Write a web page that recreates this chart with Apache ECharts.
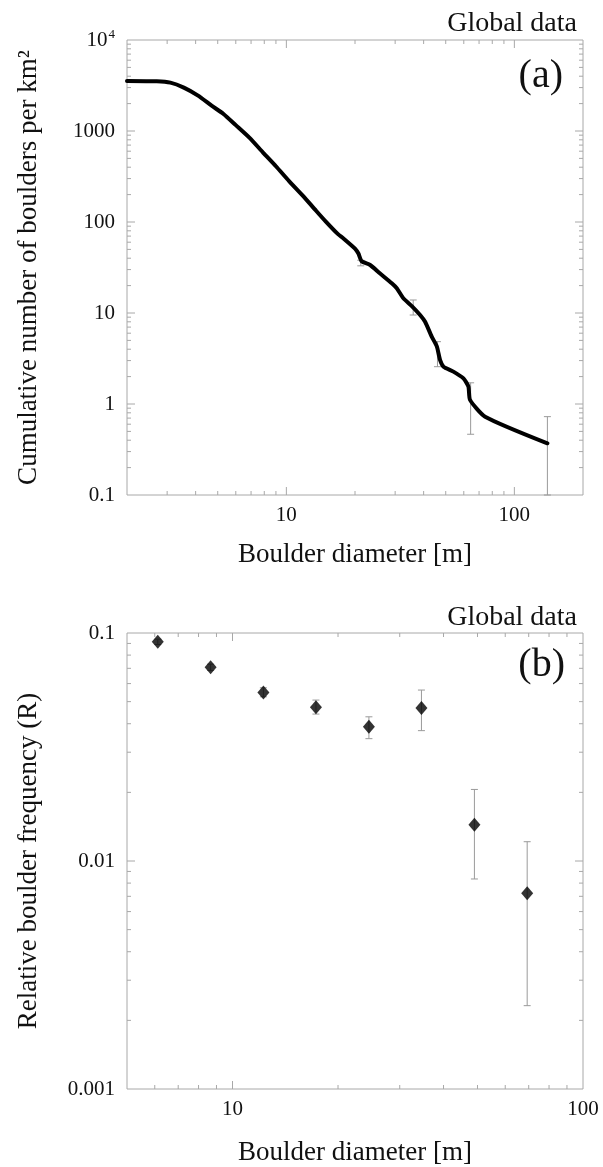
<!DOCTYPE html>
<html>
<head>
<meta charset="utf-8">
<style>
  html, body { margin: 0; padding: 0; background: #fff; }
  #chart { width: 603px; height: 1167px; }
</style>
<script src="https://cdn.jsdelivr.net/npm/echarts@6/dist/echarts.min.js"></script>
</head>
<body>
<div id="chart"></div>
<script>
// (a) cumulative size-frequency curve: [diameter m, boulders per km2]
const cumDiameter = [2.0, 2.7, 3.1, 3.55, 4.1, 4.7, 5.3, 6.0, 6.9, 7.9, 9.0, 10.3, 11.8, 13.5, 14.9, 16.8,
  17.8, 20.0, 20.7, 21.4, 23.3, 25.7, 29.0, 30.5, 32.6, 35.5, 38.6, 40.6, 43.4, 45.7, 47.2, 48.9,
  54.0, 59.8, 62.9, 63.9, 74.4, 139.6]
const cumNumber = [3550, 3520, 3400, 3000, 2450, 1900, 1540, 1160, 840, 580, 410, 280, 195, 133, 101, 74,
  66, 51, 45, 37, 33.7, 27.3, 21.2, 18.7, 14.5, 11.9, 9.5, 8.0, 5.5, 4.3, 3.05, 2.57,
  2.27, 1.91, 1.55, 1.11, 0.726, 0.37]
// (a) error bars
const cumErrD = [21.2, 36.0, 46.0, 64.3, 139.6]
const cumErrLow = [33, 9.5, 2.57, 0.465, 0.1]
const cumErrHigh = [38, 13.9, 4.84, 1.71, 0.726]

// (b) relative boulder frequency with error bars
const relDiameter = [6.12, 8.66, 12.25, 17.3, 24.5, 34.6, 49.0, 69.3]
const relFreq = [0.0916, 0.0707, 0.0549, 0.0473, 0.0388, 0.0469, 0.01442, 0.00722]
const relLow = [0.089, 0.0685, 0.0525, 0.0441, 0.0344, 0.0373, 0.00834, 0.00232]
const relHigh = [0.094, 0.073, 0.0575, 0.0508, 0.0429, 0.0562, 0.0206, 0.01215]

// axis ranges
const xRangeA = [2, 200]
const yRangeA = [0.1, 10000]
const xRangeB = [5, 100]
const yRangeB = [0.001, 0.1]

const SERIF = 'Liberation Serif, DejaVu Serif, serif'
const AXIS_COLOR = '#a8a8a8'
const TEXT_COLOR = '#111'

// log ticks: decades long, 2..9 short
function logTicks(range) {
  const out = []
  const k0 = Math.floor(Math.log10(range[0]))
  const k1 = Math.ceil(Math.log10(range[1]))
  for (let k = k0; k <= k1; k++) {
    for (let m = 1; m <= 9; m++) {
      const v = Number((m * Math.pow(10, k)).toPrecision(6))
      if (v > range[0] * 1.0001 && v < range[1] * 0.9999) out.push([v, m === 1 ? 8 : 4])
    }
  }
  return out
}

const isDecade = (v) => Math.abs(Math.log10(v) - Math.round(Math.log10(v))) < 1e-6

function decadeLabel(v) {
  if (!isDecade(v)) return ''
  const n = Number(v.toPrecision(6))
  if (n >= 10000) return '{b|10}{s|' + Math.round(Math.log10(n)) + '}'
  return '{b|' + n + '}'
}

const labelRich = {
  b: { fontFamily: SERIF, fontSize: 21, color: TEXT_COLOR },
  s: { fontFamily: SERIF, fontSize: 13, color: TEXT_COLOR, verticalAlign: 'top', padding: [0, 0, 10, 1] },
}

// ticks on all four sides, pointing inward
function tickSeries(idx, xr, yr) {
  const xt = logTicks(xr).map((t) => [t[0], yr[0], t[1], 0])
  const yt = logTicks(yr).map((t) => [xr[0], t[0], t[1], 1])
  return {
    type: 'custom',
    xAxisIndex: idx,
    yAxisIndex: idx,
    silent: true,
    z: 1,
    encode: { x: 0, y: 1 },
    data: xt.concat(yt),
    renderItem: (params, api) => {
      const v0 = api.value(0)
      const v1 = api.value(1)
      const len = api.value(2)
      const style = { stroke: AXIS_COLOR, lineWidth: 1 }
      if (api.value(3) === 0) {
        const pb = api.coord([v0, yr[0]])
        const pt = api.coord([v0, yr[1]])
        return {
          type: 'group',
          children: [
            { type: 'line', shape: { x1: pb[0], y1: pb[1], x2: pb[0], y2: pb[1] - len }, style },
            { type: 'line', shape: { x1: pt[0], y1: pt[1], x2: pt[0], y2: pt[1] + len }, style },
          ],
        }
      }
      const pl = api.coord([xr[0], v1])
      const pr = api.coord([xr[1], v1])
      return {
        type: 'group',
        children: [
          { type: 'line', shape: { x1: pl[0], y1: pl[1], x2: pl[0] + len, y2: pl[1] }, style },
          { type: 'line', shape: { x1: pr[0], y1: pr[1], x2: pr[0] - len, y2: pr[1] }, style },
        ],
      }
    },
  }
}

function errorSeries(idx, xs, lows, highs) {
  return {
    type: 'custom',
    xAxisIndex: idx,
    yAxisIndex: idx,
    silent: true,
    z: 2,
    encode: { x: 0, y: [1, 2] },
    data: xs.map((x, i) => [x, lows[i], highs[i]]),
    renderItem: (params, api) => {
      const lo = api.coord([api.value(0), api.value(1)])
      const hi = api.coord([api.value(0), api.value(2)])
      const style = { stroke: '#9a9a9a', lineWidth: 1 }
      const cap = 3.5
      return {
        type: 'group',
        children: [
          { type: 'line', shape: { x1: lo[0], y1: lo[1], x2: hi[0], y2: hi[1] }, style },
          { type: 'line', shape: { x1: lo[0] - cap, y1: lo[1], x2: lo[0] + cap, y2: lo[1] }, style },
          { type: 'line', shape: { x1: hi[0] - cap, y1: hi[1], x2: hi[0] + cap, y2: hi[1] }, style },
        ],
      }
    },
  }
}

function logAxis(idx, range, name, nameGap, margin) {
  return {
    type: 'log',
    logBase: 10,
    gridIndex: idx,
    min: range[0],
    max: range[1],
    axisLine: { show: false },
    axisTick: { show: false },
    splitLine: { show: false },
    axisLabel: {
      fontFamily: SERIF,
      fontSize: 21,
      color: TEXT_COLOR,
      margin: margin,
      formatter: decadeLabel,
      rich: labelRich,
    },
    name: name,
    nameGap: nameGap,
    nameLocation: 'middle',
    nameTextStyle: { fontFamily: SERIF, fontSize: 27, color: TEXT_COLOR },
  }
}

const chart = echarts.init(document.getElementById('chart'))

const gridStyle = { show: true, borderColor: AXIS_COLOR, borderWidth: 1, backgroundColor: 'transparent' }

const option = {
  animation: false,
  backgroundColor: '#fff',
  grid: [
    Object.assign({ left: 127, right: 20, top: 40, height: 455 }, gridStyle),
    Object.assign({ left: 127, right: 20, top: 633, height: 456 }, gridStyle),
  ],
  xAxis: [
    logAxis(0, xRangeA, 'Boulder diameter [m]', 46, 10),
    logAxis(1, xRangeB, 'Boulder diameter [m]', 50, 10),
  ],
  yAxis: [
    logAxis(0, yRangeA, 'Cumulative number of boulders per km²', 85, 12),
    logAxis(1, yRangeB, 'Relative boulder frequency (R)', 85, 12),
  ],
  graphic: [
    { type: 'text', right: 26, top: 10, style: { text: 'Global data', font: '28px ' + SERIF, fill: TEXT_COLOR } },
    { type: 'text', right: 40, top: 56, style: { text: '(a)', font: '40px ' + SERIF, fill: TEXT_COLOR } },
    { type: 'text', right: 26, top: 604, style: { text: 'Global data', font: '28px ' + SERIF, fill: TEXT_COLOR } },
    { type: 'text', right: 38, top: 645, style: { text: '(b)', font: '40px ' + SERIF, fill: TEXT_COLOR } },
  ],
  series: [
    tickSeries(0, xRangeA, yRangeA),
    tickSeries(1, xRangeB, yRangeB),
    errorSeries(0, cumErrD, cumErrLow, cumErrHigh),
    {
      type: 'line',
      xAxisIndex: 0,
      yAxisIndex: 0,
      data: cumDiameter.map((d, i) => [d, cumNumber[i]]),
      showSymbol: false,
      smooth: 0.2,
      z: 3,
      lineStyle: { color: '#000', width: 4, join: 'round', cap: 'round' },
    },
    errorSeries(1, relDiameter, relLow, relHigh),
    {
      type: 'scatter',
      xAxisIndex: 1,
      yAxisIndex: 1,
      data: relDiameter.map((d, i) => [d, relFreq[i]]),
      symbol: 'diamond',
      symbolSize: [12, 14],
      z: 3,
      itemStyle: { color: '#000' },
    },
  ],
}

chart.setOption(option)
</script>
</body>
</html>
